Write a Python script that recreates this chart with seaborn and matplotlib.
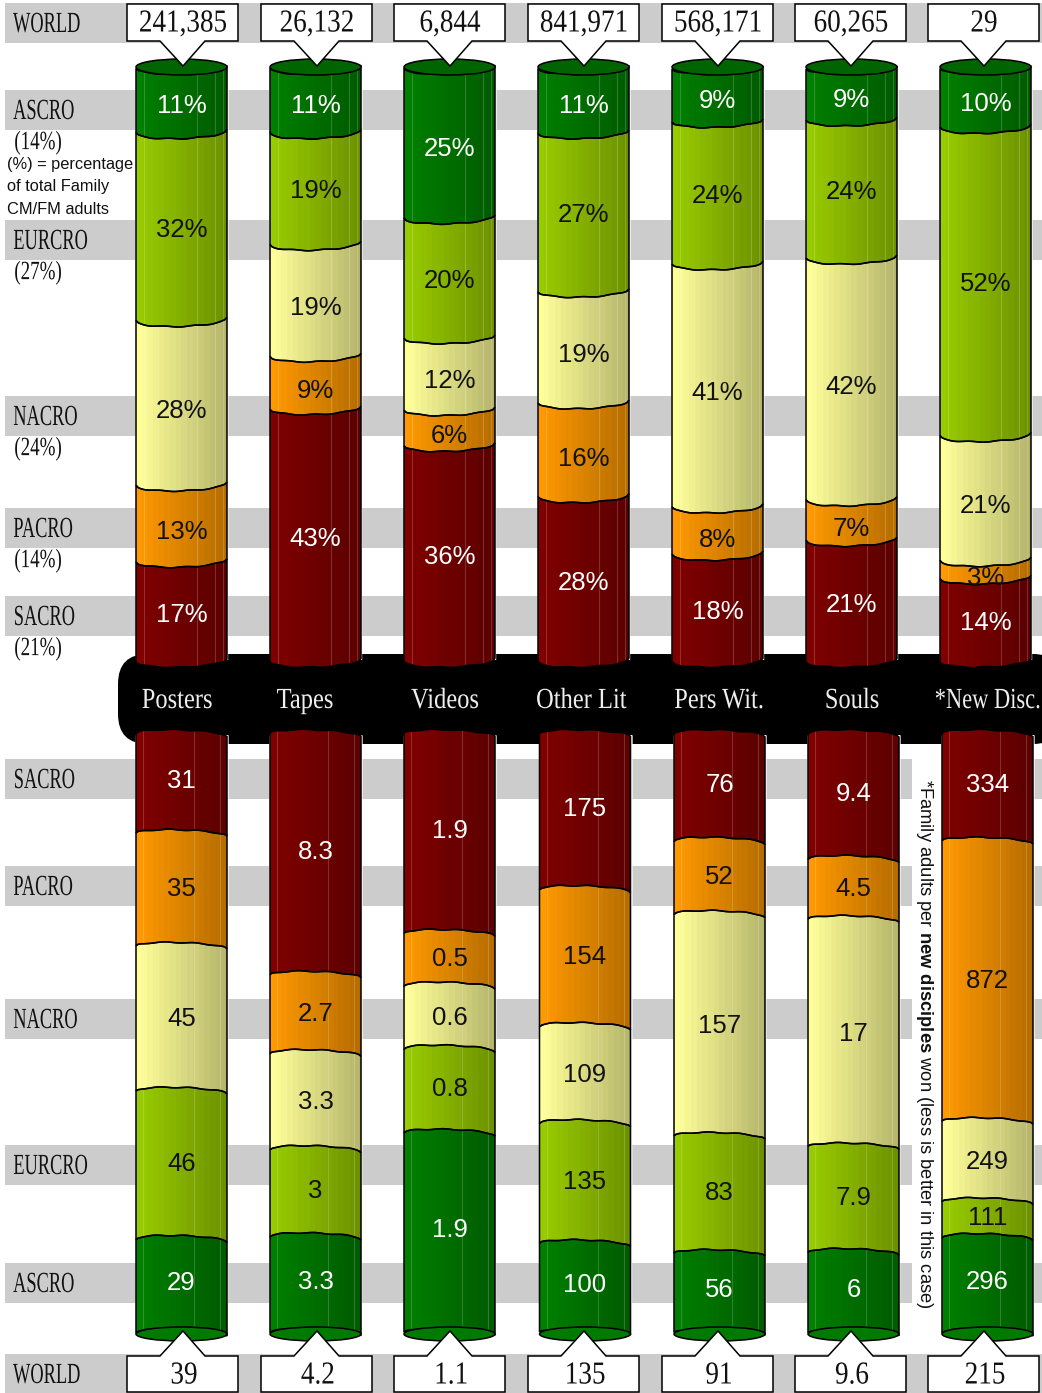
import numpy as np
import pandas as pd
import seaborn as sns
import matplotlib.pyplot as plt
from matplotlib.patches import Polygon, Rectangle, FancyBboxPatch, Ellipse
from matplotlib.patheffects import AbstractPathEffect
from matplotlib.transforms import Affine2D

# data
materials = ['Posters', 'Tapes', 'Videos', 'Other Lit', 'Pers Wit.', 'Souls', '*New Disc.']
regions = ['ASCRO', 'EURCRO', 'NACRO', 'PACRO', 'SACRO']
region_share = ['(14%)', '(27%)', '(24%)', '(14%)', '(21%)']

world_top = ['241,385', '26,132', '6,844', '841,971', '568,171', '60,265', '29']
world_bottom = ['39', '4.2', '1.1', '135', '91', '9.6', '215']

ascro_pct = [11, 11, 25, 11, 9, 9, 10]
eurcro_pct = [32, 19, 20, 27, 24, 24, 52]
nacro_pct = [28, 19, 12, 19, 41, 42, 21]
pacro_pct = [13, 9, 6, 16, 8, 7, 3]
sacro_pct = [17, 43, 36, 28, 18, 21, 14]

sacro_num = [31, 8.3, 1.9, 175, 76, 9.4, 334]
pacro_num = [35, 2.7, 0.5, 154, 52, 4.5, 872]
nacro_num = [45, 3.3, 0.6, 109, 157, 17, 249]
eurcro_num = [46, 3, 0.8, 135, 83, 7.9, 111]
ascro_num = [29, 3.3, 1.9, 100, 56, 6, 296]

colors = {'ASCRO': '#008000', 'EURCRO': '#99cc00', 'NACRO': '#ffff99',
          'PACRO': '#ff9900', 'SACRO': '#800000'}
text_colors = {'ASCRO': 'white', 'EURCRO': '#111111', 'NACRO': '#111111',
               'PACRO': '#111111', 'SACRO': 'white'}

W, H = 1042, 1393
COL_STEP = 134
COL_X0 = 181.5
COL_W = 91
SERIF = 'Liberation Serif'
SANS = 'Liberation Sans'


class Squeeze(AbstractPathEffect):
    # the reference uses a condensed serif, so narrow the glyphs when drawn
    # anchor: 0 keeps the left end in place, 0.5 the middle, 1 the right end
    def __init__(self, sx, anchor=0.5):
        super().__init__()
        self.sx = sx
        self.anchor = anchor

    def draw_path(self, renderer, gc, tpath, affine, rgbFace=None):
        ext = tpath.get_extents()
        x0 = ext.x0 + self.anchor * (ext.x1 - ext.x0)
        sq = Affine2D().translate(-x0, 0).scale(self.sx, 1).translate(x0, 0)
        renderer.draw_path(gc, tpath, sq + affine, rgbFace)


def long_table(columns, order):
    rows = []
    for name, vals in zip(order, columns):
        for m, v in zip(materials, vals):
            rows.append({'material': m, 'region': name, 'value': v})
    df = pd.DataFrame(rows)
    df['share'] = df['value'] / df.groupby('material')['value'].transform('sum') * 100
    df['region'] = pd.Categorical(df['region'], order)
    df['material'] = pd.Categorical(df['material'], materials)
    df = df.sort_values(['material', 'region'])
    df['cum'] = df.groupby('material', observed=True)['share'].cumsum()
    return df


def arc(xc, w, y, px, amp, tilt, phase):
    t = np.linspace(-1, 1, 41)
    dy = amp * np.sqrt(1 - t ** 2) + tilt * t + 0.5 * np.sin(3 * np.pi * t + phase)
    return np.column_stack([xc + t * w / 2, y + dy / px])


def draw_panel(ax, df, top_px, bot_px, amp, tilt, shifts, suffix, highlights, label_dy):
    order = list(df['region'].cat.categories)
    sns.barplot(data=df, x='material', y='cum', hue='region', order=materials,
                hue_order=order[::-1], palette=colors, dodge=False, saturation=1,
                width=COL_W / COL_STEP, legend=False, ax=ax)
    for p in ax.patches:
        i = int(round(p.get_x() + p.get_width() / 2))
        p.set_x(p.get_x() + shifts[i] / COL_STEP)

    px = (bot_px - top_px) / 100
    w = COL_W / COL_STEP
    bands = np.floor(np.linspace(0, 16, 48)) / 16
    for i, m in enumerate(materials):
        xc = i + shifts[i] / COL_STEP
        sub = df[df['material'] == m]
        y0 = 0
        for j, row in enumerate(sub.itertuples()):
            y1 = row.cum
            top = arc(xc, w, y0, px, amp, tilt, i + j)
            bot = arc(xc, w, y1, px, amp, tilt, i + j + 1)
            poly = Polygon(np.vstack([top, bot[::-1]]), closed=True, facecolor='none',
                           edgecolor='black', lw=1.1, zorder=3, clip_on=False)
            ax.add_patch(poly)
            base = np.array(plt.matplotlib.colors.to_rgb(colors[row.region]))
            grad = np.array([[base * (1 - 0.30 * b) for b in bands]])
            # extent reaches past the arcs, the polygon trims it
            im = ax.imshow(grad, extent=(xc - w / 2, xc + w / 2, y1 + 9 / px, y0 - 9 / px),
                           aspect='auto', interpolation='nearest', zorder=2)
            im.set_clip_box(fig.bbox)
            im.set_clip_path(poly)
            for off in highlights:
                ln, = ax.plot([xc - w / 2 + off / COL_STEP] * 2, [y0 - 9 / px, y1 + 9 / px],
                              color='white', alpha=0.18, lw=0.8, zorder=2.5)
                ln.set_clip_box(fig.bbox)
                ln.set_clip_path(poly)
            label = f'{row.value:g}' + suffix
            dy = label_dy[row.region]
            ax.text(xc, (y0 + y1) / 2 + dy / px, label, ha='center', va='center',
                    fontsize=18.5, color=text_colors[row.region], zorder=5)
            y0 = y1
    ax.set_xlim(-COL_X0 / COL_STEP, (W - COL_X0) / COL_STEP)
    ax.set_ylim(100, 0)
    ax.axis('off')


def panel_axes(top_px, bot_px):
    ax = fig.add_axes([0, 1 - bot_px / H, 1, (bot_px - top_px) / H], zorder=2)
    ax.patch.set_alpha(0)
    return ax


sns.set_theme(style='white')
plt.rcParams['font.family'] = [SANS, 'DejaVu Sans']
plt.rcParams['mathtext.fontset'] = 'custom'
plt.rcParams['mathtext.rm'] = 'Liberation Sans'
plt.rcParams['mathtext.bf'] = 'Liberation Sans:bold'

fig = plt.figure(figsize=(W / 100, H / 100), dpi=100)

# background layer: grey rows, black title band, left labels
bg = fig.add_axes([0, 0, 1, 1], zorder=0)
bg.set_xlim(0, W)
bg.set_ylim(H, 0)
bg.axis('off')

row_tops = [3, 90, 220, 396, 508, 596, 759, 866, 999, 1145, 1263, 1354]
row_names = ['WORLD'] + regions + regions[::-1] + ['WORLD']
for y, name in zip(row_tops, row_names):
    bg.add_patch(Rectangle((5, y), W - 5, 40, color='#cccccc', lw=0))
    bg.text(13, y + 22, name, fontsize=21, family=SERIF, ha='left', va='center',
            color='#111111', path_effects=[Squeeze(0.63, anchor=0)])
for y, s in zip(row_tops[1:6], region_share):
    bg.text(14, y + 53, s, fontsize=19, family=SERIF, ha='left', va='center',
            color='#111111', path_effects=[Squeeze(0.72, anchor=0)])
for y, s in zip([164, 187, 209], ['(%) = percentage', 'of total Family', 'CM/FM adults']):
    bg.text(7, y, s, fontsize=11.8, ha='left', va='center', color='#111111')

bg.add_patch(FancyBboxPatch((118, 654), 945, 90, boxstyle='round,pad=0,rounding_size=30',
                            facecolor='black', edgecolor='none'))
name_x = [177, 305, 445, 581, 719, 852]
for x, m in zip(name_x, materials[:-1]):
    bg.text(x, 701, m, fontsize=21, family=SERIF, color='#eeeeee', ha='center', va='center',
            path_effects=[Squeeze(0.84)])
# last name reaches the right edge, so hold it by its right end
bg.text(1041, 701, materials[-1], fontsize=21, family=SERIF, color='#eeeeee', ha='right',
        va='center', path_effects=[Squeeze(0.77, anchor=1)])

bg.add_patch(Rectangle((912, 748), 30, 570, color='white', lw=0))
bg.text(925, 1044, r'*Family adults per $\mathbf{new\ disciples}$ won (less is better in this case)',
        rotation=270, fontsize=13.2, ha='center', va='center', color='#111111')

# cylinders
top_df = long_table([ascro_pct, eurcro_pct, nacro_pct, pacro_pct, sacro_pct], regions)
bot_order = regions[::-1]
bot_df = long_table([sacro_num, pacro_num, nacro_num, eurcro_num, ascro_num], bot_order)

bot_shift = [0, 0, 0, 1.5, 2, 2, 2]
top_dy = {'ASCRO': 7, 'EURCRO': 4, 'NACRO': 9, 'PACRO': 10, 'SACRO': 5}
bot_dy = {'ASCRO': -4, 'EURCRO': -3, 'NACRO': -1, 'PACRO': -2, 'SACRO': -4}

ax_top = panel_axes(67, 660)
draw_panel(ax_top, top_df, 67, 660, 7, -1.5, [0] * 7, '%', [8, 61, 79, 87], top_dy)
ax_bot = panel_axes(735, 1334)
draw_panel(ax_bot, bot_df, 735, 1334, -5, 1.5, bot_shift, '', [7, 58, 84], bot_dy)

for i in range(7):
    ax_top.add_patch(Ellipse((i, 0), COL_W / COL_STEP, 16 / 5.93, facecolor='#006400',
                             edgecolor='black', lw=1.1, zorder=4, clip_on=False))
    xc = i + bot_shift[i] / COL_STEP
    ax_bot.add_patch(Ellipse((xc, 100), COL_W / COL_STEP, 14 / 5.99, facecolor='#007a00',
                             edgecolor='black', lw=1.1, zorder=4, clip_on=False))

# callouts
fg = fig.add_axes([0, 0, 1, 1], zorder=3)
fg.set_xlim(0, W)
fg.set_ylim(H, 0)
fg.axis('off')
fg.patch.set_alpha(0)
box_x = [127, 261, 394, 528, 662, 795, 928]
for i, x in enumerate(box_x):
    up = [(x, 4), (x + 111, 4), (x + 111, 41), (x + 78, 41), (x + 56, 66), (x + 33, 41), (x, 41)]
    dn = [(x, 1392), (x + 111, 1392), (x + 111, 1356), (x + 78, 1356), (x + 56, 1331),
          (x + 33, 1356), (x, 1356)]
    for pts in (up, dn):
        fg.add_patch(Polygon(pts, closed=True, facecolor='white', edgecolor='black', lw=1.1))
    fg.text(x + 56, 24, world_top[i], fontsize=23, family=SERIF, ha='center', va='center',
            color='#111111', path_effects=[Squeeze(0.85)])
    fg.text(x + 57, 1376, world_bottom[i], fontsize=23, family=SERIF, ha='center', va='center',
            color='#111111', path_effects=[Squeeze(0.85)])

fig.savefig('out.png', dpi=100)
